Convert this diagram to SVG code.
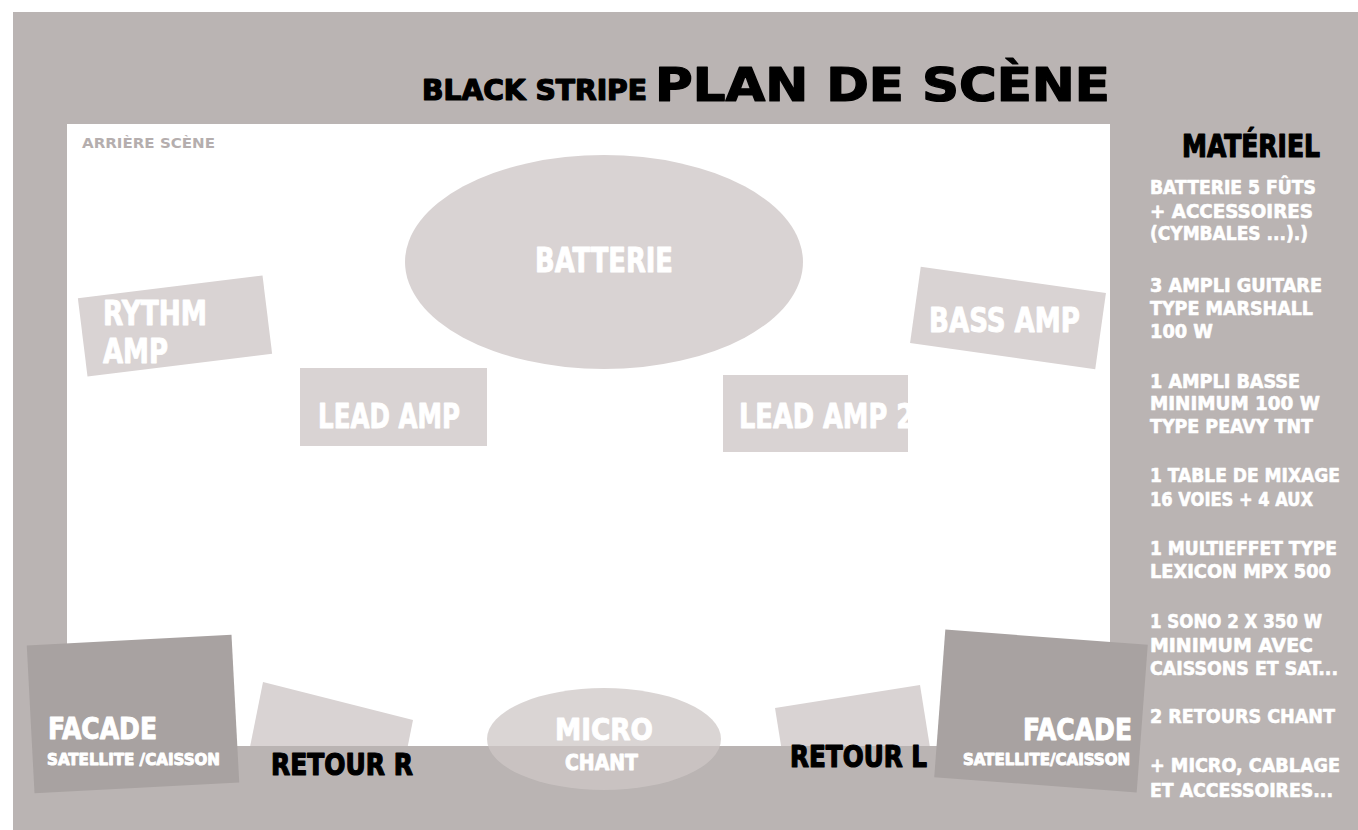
<svg xmlns="http://www.w3.org/2000/svg" width="1358" height="830" viewBox="0 0 1358 830">
<style>
.t{font-family:"Liberation Sans Narrow","DejaVu Sans Condensed","Liberation Sans",sans-serif;font-weight:bold;stroke-linejoin:round}
.w{fill:#ffffff;stroke:#ffffff;stroke-width:0.9}
.k{fill:#000000;stroke:#000000;stroke-width:1.2}
.lt{fill:#d9d3d3}
.dk{fill:#a8a2a1}
.li{font-size:20px;stroke-width:0.6}
</style>
<defs>
<clipPath id="stageClip"><rect x="67" y="124" width="1043" height="622"/></clipPath>
</defs>
<rect x="0" y="0" width="1358" height="830" fill="#ffffff"/>
<rect x="13" y="12" width="1345" height="818" fill="#bab4b3"/>
<rect id="stage" x="67" y="124" width="1043" height="622" fill="#ffffff"/>
<g id="title">
<text class="t k" x="422" y="100" font-size="28" textLength="225" lengthAdjust="spacingAndGlyphs">BLACK STRIPE</text>
<text class="t k" x="655" y="101" font-size="46" textLength="455" lengthAdjust="spacingAndGlyphs" stroke-width="1.8">PLAN DE SCÈNE</text>
</g>
<text class="t" x="82" y="148" font-size="14" fill="#b5aeae" textLength="133" lengthAdjust="spacingAndGlyphs">ARRIÈRE SCÈNE</text>
<g id="batterie">
<ellipse class="lt" cx="604" cy="262" rx="199" ry="107"/>
<text class="t w" x="535" y="272" font-size="34" textLength="138" lengthAdjust="spacingAndGlyphs">BATTERIE</text>
</g>
<g id="rythm-amp">
<rect class="lt" x="82" y="286.5" width="186" height="79" transform="rotate(-7 175 326)"/>
<text class="t w" x="103" y="325" font-size="34" textLength="104" lengthAdjust="spacingAndGlyphs">RYTHM</text>
<text class="t w" x="103" y="363" font-size="34" textLength="65" lengthAdjust="spacingAndGlyphs">AMP</text>
</g>
<g id="lead-amp">
<rect class="lt" x="300" y="368" width="187" height="78"/>
<text class="t w" x="318" y="428" font-size="34" textLength="142" lengthAdjust="spacingAndGlyphs">LEAD AMP</text>
</g>
<g id="bass-amp">
<rect class="lt" x="914.5" y="279.5" width="187" height="77" transform="rotate(8 1008 318)"/>
<text class="t w" x="929" y="332" font-size="34" textLength="151" lengthAdjust="spacingAndGlyphs">BASS AMP</text>
</g>
<g id="lead-amp-2">
<rect class="lt" x="723" y="375" width="185" height="77"/>
<text class="t w" x="739" y="428" font-size="34" textLength="175" lengthAdjust="spacingAndGlyphs">LEAD AMP 2</text>
</g>
<g id="retour-r">
<polygon class="lt" clip-path="url(#stageClip)" points="263,682 413,720 399,790 249,752"/>
<text class="t k" x="271" y="775" font-size="30" textLength="142" lengthAdjust="spacingAndGlyphs">RETOUR R</text>
</g>
<g id="retour-l">
<polygon class="lt" clip-path="url(#stageClip)" points="775,708 920,685 932,760 787,783"/>
<text class="t k" x="790" y="767" font-size="30" textLength="137" lengthAdjust="spacingAndGlyphs">RETOUR L</text>
</g>
<g id="micro-chant">
<ellipse cx="604" cy="739" rx="117" ry="51" fill="#cdc7c6" fill-opacity="0.75"/>
<text class="t w" x="555" y="740" font-size="31" textLength="98" lengthAdjust="spacingAndGlyphs">MICRO</text>
<text class="t w" x="565" y="770" font-size="22" textLength="73" lengthAdjust="spacingAndGlyphs">CHANT</text>
</g>
<g id="facade-l">
<rect class="dk" x="30.5" y="640" width="205" height="148" transform="rotate(-3 133 714)"/>
<text class="t w" x="48" y="739" font-size="30" textLength="109" lengthAdjust="spacingAndGlyphs">FACADE</text>
<text class="t w" x="47" y="765" font-size="16" textLength="173" lengthAdjust="spacingAndGlyphs" stroke-width="0.5">SATELLITE /CAISSON</text>
</g>
<g id="facade-r">
<rect class="dk" x="939.5" y="637" width="203" height="148" transform="rotate(4.3 1041 711)"/>
<text class="t w" x="1023" y="740" font-size="30" textLength="109" lengthAdjust="spacingAndGlyphs">FACADE</text>
<text class="t w" x="963" y="765" font-size="16" textLength="167" lengthAdjust="spacingAndGlyphs" stroke-width="0.5">SATELLITE/CAISSON</text>
</g>
<g id="materiel">
<text class="t k" x="1182" y="157" font-size="32" textLength="138" lengthAdjust="spacingAndGlyphs">MATÉRIEL</text>
<text class="t w li" x="1150" y="194" textLength="166" lengthAdjust="spacingAndGlyphs">BATTERIE 5 FÛTS</text>
<text class="t w li" x="1150" y="218" textLength="163" lengthAdjust="spacingAndGlyphs">+ ACCESSOIRES</text>
<text class="t w li" x="1150" y="240" textLength="158" lengthAdjust="spacingAndGlyphs">(CYMBALES ...).)</text>
<text class="t w li" x="1150" y="292" textLength="172" lengthAdjust="spacingAndGlyphs">3 AMPLI GUITARE</text>
<text class="t w li" x="1150" y="315" textLength="163" lengthAdjust="spacingAndGlyphs">TYPE MARSHALL</text>
<text class="t w li" x="1150" y="338" textLength="63" lengthAdjust="spacingAndGlyphs">100 W</text>
<text class="t w li" x="1150" y="388" textLength="150" lengthAdjust="spacingAndGlyphs">1 AMPLI BASSE</text>
<text class="t w li" x="1150" y="410" textLength="170" lengthAdjust="spacingAndGlyphs">MINIMUM 100 W</text>
<text class="t w li" x="1150" y="433" textLength="163" lengthAdjust="spacingAndGlyphs">TYPE PEAVY TNT</text>
<text class="t w li" x="1150" y="482" textLength="190" lengthAdjust="spacingAndGlyphs">1 TABLE DE MIXAGE</text>
<text class="t w li" x="1150" y="506" textLength="163" lengthAdjust="spacingAndGlyphs">16 VOIES + 4 AUX</text>
<text class="t w li" x="1150" y="555" textLength="187" lengthAdjust="spacingAndGlyphs">1 MULTIEFFET TYPE</text>
<text class="t w li" x="1150" y="578" textLength="181" lengthAdjust="spacingAndGlyphs">LEXICON MPX 500</text>
<text class="t w li" x="1150" y="628" textLength="172" lengthAdjust="spacingAndGlyphs">1 SONO 2 X 350 W</text>
<text class="t w li" x="1150" y="652" textLength="163" lengthAdjust="spacingAndGlyphs">MINIMUM  AVEC</text>
<text class="t w li" x="1150" y="675" textLength="188" lengthAdjust="spacingAndGlyphs">CAISSONS ET SAT...</text>
<text class="t w li" x="1150" y="723" textLength="185" lengthAdjust="spacingAndGlyphs">2 RETOURS CHANT</text>
<text class="t w li" x="1150" y="772" textLength="190" lengthAdjust="spacingAndGlyphs">+ MICRO, CABLAGE</text>
<text class="t w li" x="1150" y="797" textLength="183" lengthAdjust="spacingAndGlyphs">ET ACCESSOIRES...</text>
</g>
</svg>
